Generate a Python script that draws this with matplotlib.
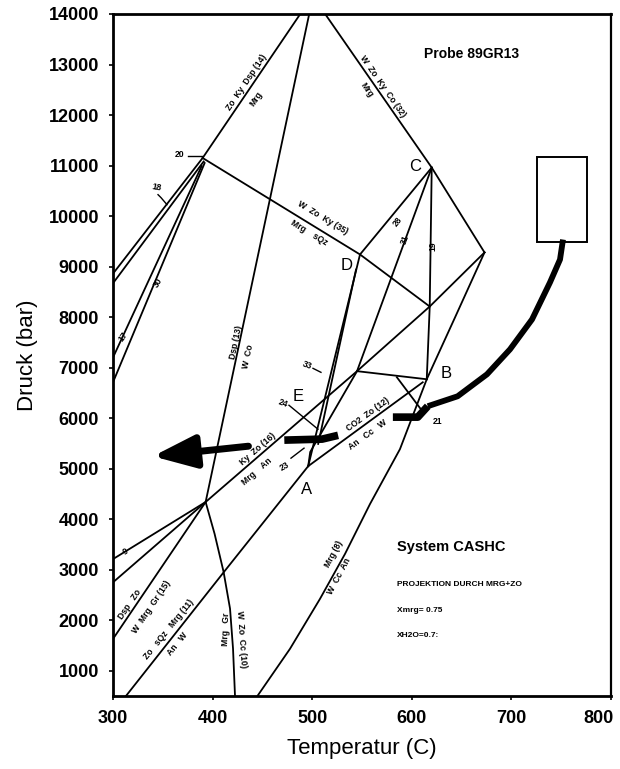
import matplotlib
matplotlib.use("Agg")
import matplotlib.pyplot as plt
import matplotlib.transforms as mtransforms
from matplotlib.patches import Rectangle

plt.rcParams["font.family"] = ["Liberation Sans", "DejaVu Sans"]

# reaction curves, temperature (C) and pressure (bar)
r14_t = [390, 488]
r14_p = [11150, 14000]
r13_t = [497, 393, 402, 411, 417.5, 420.5, 422.5]
r13_p = [14000, 4340, 3710, 2960, 2230, 1440, 500]
r32_t = [513, 620, 673]
r32_p = [14000, 10960, 9280]
r35_t = [390, 548, 618]
r35_p = [11150, 9240, 8210]
r28_t = [620, 548, 496]
r28_p = [10960, 9240, 5050]
r28b_t = [544, 506]
r28b_p = [8940, 5490]
r31_t = [620, 545, 498, 496]
r31_p = [10960, 6930, 5330, 5050]
r19_t = [620, 618, 615]
r19_p = [10960, 8210, 6770]
r16_t = [300, 393, 545, 618, 673]
r16_p = [2750, 4340, 6930, 8210, 9280]
r8_t = [445, 477.7, 507.8, 532.9, 558, 588.1, 615, 643.4, 673]
r8_p = [500, 1434, 2422, 3311, 4299, 5386, 6770, 7994, 9280]
r12_t = [496, 611]
r12_p = [5050, 6710]
r11_t = [313, 411.4, 496]
r11_p = [500, 2956, 5050]
r15_t = [300, 393]
r15_p = [1630, 4340]
r9_t = [300, 393]
r9_p = [3210, 4340]
rRB_t = [545, 615]
rRB_p = [6930, 6770]
r21_t = [585, 609]
r21_p = [6810, 6180]
r18_t = [390, 300]
r18_p = [11150, 8860]
r18b_t = [391, 300]
r18b_p = [11080, 8670]
r17_t = [389, 300]
r17_p = [10990, 7200]
r30_t = [392, 300]
r30_p = [11050, 6710]

curves = [
    (r14_t, r14_p), (r13_t, r13_p), (r32_t, r32_p), (r35_t, r35_p),
    (r28_t, r28_p), (r28b_t, r28b_p), (r31_t, r31_p), (r19_t, r19_p),
    (r16_t, r16_p), (r8_t, r8_p), (r12_t, r12_p), (r11_t, r11_p),
    (r15_t, r15_p), (r9_t, r9_p), (rRB_t, rRB_p), (r21_t, r21_p),
    (r18_t, r18_p), (r18b_t, r18b_p), (r17_t, r17_p), (r30_t, r30_p),
]

# short leader ticks next to reaction numbers
lead_20_t = [375.3, 389.4]
lead_20_p = [11194, 11194]
lead_18_t = [345.2, 348.2, 354.2]
lead_18_p = [10424, 10365, 10226]
lead_24_t = [476.7, 505.8]
lead_24_p = [6255, 5781]
lead_33_t = [500.8, 508.8]
lead_33_p = [6986, 6907]
lead_23_t = [478.7, 491.8]
lead_23_p = [5208, 5406]
leaders = [(lead_20_t, lead_20_p), (lead_18_t, lead_18_p), (lead_24_t, lead_24_p),
           (lead_33_t, lead_33_p), (lead_23_t, lead_23_p)]

# P-T path of the sample
path_t = [616, 646, 675.5, 698.6, 720.7, 738.7, 748.8, 751.8]
path_p = [6236, 6433, 6868, 7362, 7954, 8685, 9140, 9535]
path_bar_t = [581, 606, 616]
path_bar_p = [6020, 6020, 6236]
mid_bar_t = [472, 510, 526]
mid_bar_p = [5565, 5585, 5660]
arrow_tail = (436, 5445)
arrow_tip = (340, 5245)
peak_box_t = [725.7, 775.9]
peak_box_p = [9495, 11175]

# curve annotations: text, T, P, angle
curve_labels = [
    ("Zo  Ky  Dsp (14)", 434.5, 12637, 56),
    ("Mrg", 443.6, 12321, 56),
    ("W  Zo  Ky  Co (32)", 571, 12558, -55),
    ("Mrg", 555, 12498, -55),
    ("W  Zo  Ky (35)", 510.8, 9970, -31),
    ("Mrg    sQz", 496.8, 9673, -31),
    ("Dsp (13)", 423.5, 7500, 78),
    ("W  Co", 435.5, 7223, 78),
    ("Ky  Zo (16)", 445.6, 5386, 41),
    ("Mrg    An", 444.6, 4951, 41),
    ("CO2  Zo (12)", 556, 6078, 36),
    ("An   Cc   W", 556, 5663, 36),
    ("Mrg (8)", 521.9, 3311, 62),
    ("W  Cc  An", 526.9, 2877, 62),
    ("Dsp   Zo", 317, 2324, 56),
    ("W  Mrg  Gr (15)", 339, 2264, 56),
    ("Zo   sQz   Mrg (11)", 356.2, 1810, 51),
    ("An   W", 364.3, 1533, 51),
    ("W  Zo  Cc (10)", 428.5, 1632, -86),
    ("Mrg   Gr", 413.4, 1830, 88),
    ("28", 586, 9891, 52),
    ("31", 593, 9535, 70),
    ("19", 621.3, 9397, 90),
    ("21", 626.3, 5939, 0),
    ("24", 470.7, 6295, -20),
    ("23", 472.7, 5050, 30),
    ("33", 494.8, 7046, -20),
    ("20", 367.3, 11214, 0),
    ("18", 344.2, 10562, -10),
    ("17", 310, 7618, 55),
    ("30", 345.2, 8685, 60),
    ("9", 313, 3351, 30),
]

# invariant points
point_names = ["A", "B", "C", "D", "E"]
point_t = [494.8, 634.3, 603.2, 535, 485.7]
point_p = [4596, 6888, 10977, 9021, 6433]

x_ticks = [300, 400, 500, 600, 700, 800]
y_ticks = list(range(1000, 15000, 1000))


def main():
    fig = plt.figure(figsize=(6.2, 7.69), dpi=100)
    ax = fig.add_axes([113 / 620, 1 - 696 / 769, 498 / 620, 682 / 769])

    for t, p in curves:
        ax.plot(t, p, color="black", lw=1.3, solid_joinstyle="round")
    for t, p in leaders:
        ax.plot(t, p, color="black", lw=1.0)

    ax.plot(path_t, path_p, color="black", lw=4.2, solid_capstyle="butt",
            solid_joinstyle="round")
    ax.plot(path_bar_t, path_bar_p, color="black", lw=5.5, solid_capstyle="butt")
    ax.plot(mid_bar_t, mid_bar_p, color="black", lw=5.5, solid_capstyle="butt")
    ax.annotate("", xy=arrow_tip, xytext=arrow_tail,
                arrowprops=dict(arrowstyle="-|>,head_length=1.3,head_width=0.5",
                                lw=5, color="black", mutation_scale=20,
                                shrinkA=0, shrinkB=0))
    ax.add_patch(Rectangle((peak_box_t[0], peak_box_p[0]),
                           peak_box_t[1] - peak_box_t[0],
                           peak_box_p[1] - peak_box_p[0],
                           fill=False, lw=1.4, ec="black"))

    for text, t, p, rot in curve_labels:
        ax.text(t, p, text, rotation=rot, ha="center", va="center",
                fontsize=6.2, fontweight="bold", rotation_mode="anchor")

    for name, t, p in zip(point_names, point_t, point_p):
        ax.text(t, p, name, ha="center", va="center", fontsize=12)

    ax.text(0.72, 0.942, "Probe 89GR13", transform=ax.transAxes,
            ha="center", va="center", fontsize=10, fontweight="bold")
    ax.text(0.57, 0.218, "System CASHC", transform=ax.transAxes,
            ha="left", va="center", fontsize=10.5, fontweight="bold")
    ax.text(0.57, 0.164, "PROJEKTION DURCH MRG+ZO", transform=ax.transAxes,
            ha="left", va="center", fontsize=6, fontweight="bold")
    ax.text(0.57, 0.125, "Xmrg= 0.75", transform=ax.transAxes,
            ha="left", va="center", fontsize=6, fontweight="bold")
    ax.text(0.57, 0.088, "XH2O=0.7:", transform=ax.transAxes,
            ha="left", va="center", fontsize=6, fontweight="bold")

    ax.set_xlim(300, 800)
    ax.set_ylim(500, 14000)
    ax.set_xticks(x_ticks)
    ax.set_yticks(y_ticks)
    ax.tick_params(direction="out", length=3, width=1.2, pad=7, labelsize=13)
    for lab in ax.get_xticklabels() + ax.get_yticklabels():
        lab.set_fontweight("bold")
    # keep the last temperature label inside the figure
    shift = mtransforms.ScaledTranslation(-9 / 72, 0, fig.dpi_scale_trans)
    last = ax.get_xticklabels()[-1]
    last.set_transform(last.get_transform() + shift)
    for side in ["left", "bottom", "top"]:
        ax.spines[side].set_linewidth(2)
    ax.spines["right"].set_linewidth(1.6)

    ax.set_xlabel("Temperatur (C)", fontsize=16, labelpad=8)
    ax.set_ylabel("Druck (bar)", fontsize=16, labelpad=8)

    fig.savefig("out.png", dpi=100)
    plt.close(fig)


if __name__ == "__main__":
    main()
